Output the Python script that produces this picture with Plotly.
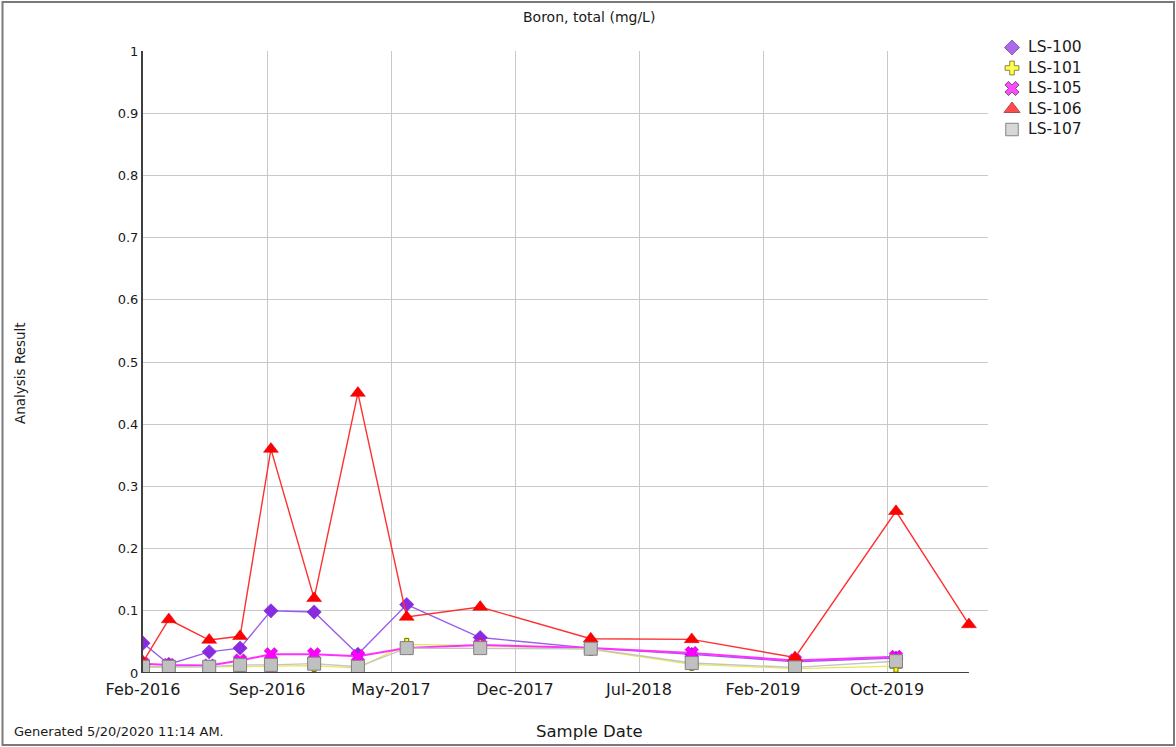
import plotly.graph_objects as go

# Sampling dates (LS-106 has one extra, later sample)
sample_dates = [
    "2016-02-17", "2016-04-03", "2016-06-14", "2016-08-08", "2016-10-02",
    "2016-12-18", "2017-03-06", "2017-06-01", "2017-10-10", "2018-04-25",
    "2018-10-22", "2019-04-24", "2019-10-21", "2020-02-28",
]

# Boron, total (mg/L) per well
ls100 = [0.048, 0.014, 0.034, 0.040, 0.100, 0.098, 0.030, 0.110, 0.057, 0.040, 0.030, 0.018, 0.024]
ls101 = [0.008, 0.010, 0.010, 0.011, 0.011, 0.012, 0.008, 0.046, 0.044, 0.038, 0.014, 0.007, 0.011]
ls105 = [0.015, 0.013, 0.012, 0.020, 0.030, 0.030, 0.027, 0.040, 0.045, 0.040, 0.032, 0.020, 0.026]
ls106 = [0.018, 0.086, 0.053, 0.059, 0.360, 0.120, 0.450, 0.090, 0.106, 0.055, 0.054, 0.025, 0.260, 0.078]
ls107 = [0.010, 0.010, 0.010, 0.013, 0.013, 0.015, 0.010, 0.040, 0.040, 0.039, 0.016, 0.009, 0.019]

# Axis ticks
x_tick_dates = ["2016-02-17", "2016-09-25", "2017-05-04", "2017-12-11",
                "2018-07-20", "2019-02-26", "2019-10-05"]
x_tick_labels = ["Feb-2016", "Sep-2016", "May-2017", "Dec-2017",
                 "Jul-2018", "Feb-2019", "Oct-2019"]
x_axis_end = "2020-04-02"
y_tick_vals = [0, 0.1, 0.2, 0.3, 0.4, 0.5, 0.6, 0.7, 0.8, 0.9, 1]
y_tick_labels = ["0", "0.1", "0.2", "0.3", "0.4", "0.5", "0.6", "0.7", "0.8", "0.9", "1"]

W, H = 1176, 747
FONT = "DejaVu Sans, Verdana, sans-serif"
TXT = "#1a1a1a"


def fx(px):
    """Horizontal pixel -> figure fraction."""
    return px / W


def fy(py):
    """Vertical pixel (from top) -> figure fraction."""
    return 1 - py / H


series = [
    dict(name="LS-100", y=ls100, line="#9a5cf0", lw=1.4,
         marker=dict(symbol="diamond", size=11, color="#8a2be2",
                     line=dict(color="#6a1fc0", width=0.5))),
    dict(name="LS-101", y=ls101, line="#e8e850", lw=1.2,
         marker=dict(symbol="cross", size=10, color="#ffff00",
                     line=dict(color="#6b6b00", width=1))),
    dict(name="LS-105", y=ls105, line="#ff30ff", lw=2,
         marker=dict(symbol="x", size=12, color="#ff00ff",
                     line=dict(color="#b000b0", width=0.5))),
    dict(name="LS-106", y=ls106, line="#ff3030", lw=1.4,
         marker=dict(symbol="triangle-up", size=13, color="#ff0000",
                     line=dict(color="#e00000", width=0.5))),
    dict(name="LS-107", y=ls107, line="#c4c4c4", lw=1.4,
         marker=dict(symbol="square", size=13, color="#c0c0c0",
                     line=dict(color="#808080", width=1))),
]

legend_markers = [
    dict(symbol="diamond", size=11.5, color="#8a2be2", line=dict(color="#5a1aa0", width=1)),
    dict(symbol="cross", size=11.5, color="#ffff00", line=dict(color="#555500", width=1)),
    dict(symbol="x", size=12.5, color="#ff00ff", line=dict(color="#400040", width=1)),
    dict(symbol="triangle-up", size=14, color="#ff0000", line=dict(color="#900000", width=1)),
    dict(symbol="square", size=12.5, color="#c8c8c8", line=dict(color="#505050", width=1)),
]

fig = go.Figure()

for s in series:
    fig.add_trace(go.Scatter(
        x=sample_dates[:len(s["y"])], y=s["y"], mode="lines+markers",
        name=s["name"], showlegend=False,
        line=dict(color=s["line"], width=s["lw"]),
        marker=s["marker"],
    ))

# Legend key: one symbol per well on a small hidden axis pair
legend_names = [s["name"] for s in series]
legend_rows = list(range(len(legend_names)))
fig.add_trace(go.Scatter(
    x=[0.5] * len(legend_rows), y=legend_rows, mode="markers",
    xaxis="x2", yaxis="y2", showlegend=False, cliponaxis=False, hoverinfo="skip",
    marker=dict(
        symbol=[m["symbol"] for m in legend_markers],
        size=[m["size"] for m in legend_markers],
        color=[m["color"] for m in legend_markers],
        line=dict(color=[m["line"]["color"] for m in legend_markers], width=1),
    ),
))

annotations = [
    dict(text=name, xref="paper", yref="y2", x=fx(1026), y=row,
         xanchor="left", yanchor="middle", showarrow=False,
         font=dict(family=FONT, size=15.5, color=TXT))
    for name, row in zip(legend_names, legend_rows)
]
annotations += [
    dict(text="Boron, total (mg/L)", xref="paper", yref="paper",
         x=fx(589), y=fy(17), showarrow=False, xanchor="center", yanchor="middle",
         font=dict(family=FONT, size=14, color=TXT)),
    dict(text="Analysis Result", xref="paper", yref="paper",
         x=fx(20), y=fy(373), showarrow=False, textangle=-90,
         xanchor="center", yanchor="middle",
         font=dict(family=FONT, size=13.5, color=TXT)),
    dict(text="Sample Date", xref="paper", yref="paper",
         x=fx(590), y=fy(731), showarrow=False, xanchor="center", yanchor="middle",
         font=dict(family=FONT, size=16.5, color=TXT)),
    dict(text="Generated 5/20/2020 11:14 AM.", xref="paper", yref="paper",
         x=fx(12), y=fy(731), showarrow=False, xanchor="left", yanchor="middle",
         font=dict(family=FONT, size=13, color=TXT)),
]

shapes = [
    # Dark baseline under the sampled period
    dict(type="line", xref="x", yref="y",
         x0=sample_dates[0], x1=sample_dates[-1], y0=0, y1=0,
         line=dict(color="#404040", width=2)),
    # Outer frame
    dict(type="rect", xref="paper", yref="paper",
         x0=fx(2.5), x1=fx(1174), y0=fy(745), y1=fy(2),
         line=dict(color="#7a7a7a", width=2), layer="below"),
]

fig.update_layout(
    width=W, height=H,
    margin=dict(l=0, r=0, t=0, b=0),
    paper_bgcolor="white", plot_bgcolor="white",
    font=dict(family=FONT, size=13, color=TXT),
    showlegend=False,
    xaxis=dict(
        domain=[fx(143), fx(988)], anchor="y", automargin=False,
        type="date", range=[sample_dates[0], x_axis_end],
        tickmode="array", tickvals=x_tick_dates, ticktext=x_tick_labels,
        showgrid=True, gridcolor="#c8c8c8", gridwidth=1,
        zeroline=False, showline=False, ticks="", ticklabelstandoff=5,
        tickfont=dict(family=FONT, size=16, color=TXT),
    ),
    yaxis=dict(
        domain=[fy(673), fy(51)], anchor="x", automargin=False,
        range=[0, 1], tickmode="array", tickvals=y_tick_vals, ticktext=y_tick_labels,
        showgrid=True, gridcolor="#c8c8c8", gridwidth=1,
        zeroline=False, showline=True, linecolor="#404040", linewidth=2, ticks="",
        tickfont=dict(family=FONT, size=13, color=TXT),
    ),
    xaxis2=dict(domain=[fx(1002), fx(1022)], anchor="y2", range=[0, 1],
                visible=False, fixedrange=True),
    yaxis2=dict(domain=[fy(139.75), fy(37.25)], anchor="x2", range=[4.5, -0.5],
                visible=False, fixedrange=True),
    annotations=annotations,
    shapes=shapes,
)

fig.write_html("out.html")
